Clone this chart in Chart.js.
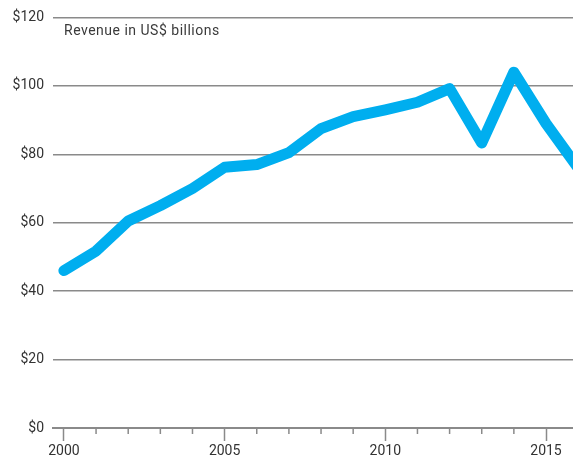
<!DOCTYPE html>
<html>
<head>
<meta charset="utf-8">
<script src="https://cdn.jsdelivr.net/npm/chart.js@4"></script>
<style>
  html, body { margin: 0; padding: 0; background: #fff; }
  #wrap { position: relative; width: 573px; height: 457px; }
  #note {
    position: absolute; left: 64px; top: 22px;
    font: 14px Roboto, "Noto Sans", sans-serif; letter-spacing: 0.5px; color: #3a3a3a;
  }
</style>
</head>
<body>
<div id="wrap">
  <canvas id="revenue-chart"></canvas>
  <div id="note">Revenue in US$ billions</div>
</div>
<script>
// Revenue data
// ------------------------------
var years = [2000, 2001, 2002, 2003, 2004, 2005, 2006, 2007, 2008,
             2009, 2010, 2011, 2012, 2013, 2014, 2015, 2016];
var revenue = [46, 51.7, 60.5, 65, 70, 76.2, 77, 80.5, 87.5,
               91, 93, 95.2, 99.2, 83.3, 104, 89, 76];
var yTicks = [0, 20, 40, 60, 80, 100, 120];

var gridGray = '#8a8a8a';
var textColor = '#333';

// short ticks for the years between the labelled ones
var minorTicks = {
    id: 'minorTicks',
    afterDraw: function(chart) {
        var x = chart.scales.x;
        var ctx = chart.ctx;
        var y0 = chart.chartArea.bottom;
        ctx.save();
        ctx.strokeStyle = gridGray;
        ctx.lineWidth = 1.5;
        years.forEach(function(yr) {
            if (yr % 5 === 0) return;
            var px = x.getPixelForValue(yr);
            if (px > chart.chartArea.right) return;
            ctx.beginPath();
            ctx.moveTo(px, y0);
            ctx.lineTo(px, y0 + 6);
            ctx.stroke();
        });
        ctx.restore();
    }
};

var chartData = {
    datasets: [{
        label: 'Revenue',
        data: years.map(function(yr, i) { return {x: yr, y: revenue[i]}; }),
        borderColor: '#00aeef',
        borderWidth: 11,
        borderCapStyle: 'round',
        borderJoinStyle: 'round',
        pointRadius: 0,
        tension: 0,
        fill: false
    }]
};

var chartOptions = {
    responsive: true,
    maintainAspectRatio: false,
    animation: false,
    layout: { padding: { top: 15, right: 0, bottom: 0, left: 0 } },
    plugins: { legend: { display: false }, tooltip: { enabled: false } },
    scales: {
        x: {
            type: 'linear',
            min: 1999.66,
            max: 2015.84,
            afterFit: function(scale) { scale.height = 29; },
            border: { display: true, color: gridGray, width: 2 },
            grid: {
                drawOnChartArea: false,
                drawTicks: true,
                tickLength: 13,
                tickWidth: 1.5,
                tickColor: function(c) {
                    return c.tick && c.tick.value % 5 === 0 ? gridGray : 'rgba(0,0,0,0)';
                }
            },
            ticks: {
                stepSize: 1,
                includeBounds: false,
                autoSkip: false,
                maxRotation: 0,
                padding: 2,
                color: textColor,
                font: { family: 'Roboto', size: 14 },
                callback: function(v) { return v % 5 === 0 ? String(v) : ''; }
            }
        },
        y: {
            min: yTicks[0],
            max: yTicks[yTicks.length - 1],
            afterFit: function(scale) { scale.width = 53; },
            border: { display: false },
            grid: { color: gridGray, lineWidth: 1.5, drawTicks: false },
            ticks: {
                stepSize: 20,
                padding: 9,
                color: textColor,
                font: { family: 'Roboto', size: 14 },
                callback: function(v) { return '$' + v; }
            }
        }
    }
};

var revenueChart = new Chart(document.getElementById('revenue-chart'), {
    type: 'line',
    data: chartData,
    options: chartOptions,
    plugins: [minorTicks]
});
</script>
</body>
</html>
